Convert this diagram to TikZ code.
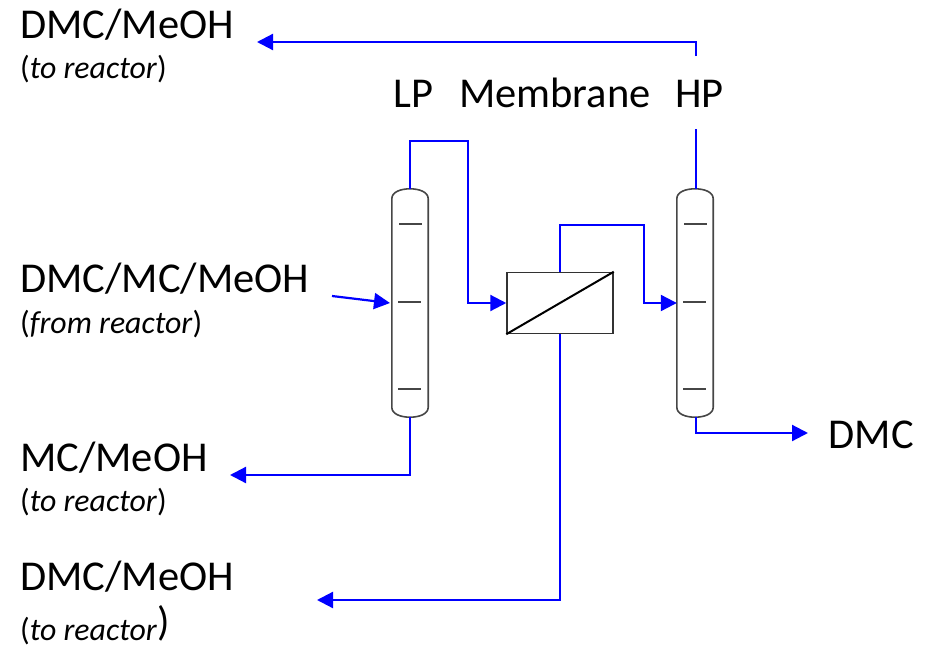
\documentclass[tikz,border=0pt]{standalone}
\usepackage{fontspec}
\setmainfont{Carlito}
\usetikzlibrary{arrows.meta}
\tikzset{
  big/.style={anchor=base west,inner sep=0pt,font=\fontsize{42.5}{44}\selectfont},
  small/.style={anchor=base west,inner sep=0pt,font=\fontsize{31.8}{34}\selectfont},
  flow/.style={draw={rgb,255:red,0;green,0;blue,255},line width=2.2pt,line join=miter},
  flowarrow/.style={flow,-{Triangle[length=16pt,width=16pt]}},
  column/.style={minimum width=36pt,minimum height=228pt,inner sep=0pt,draw=none},
  colline/.style={draw={rgb,255:red,70;green,70;blue,70},line width=1.6pt},
  tray/.style={colline,line width=1.5pt},
  membrane/.style={draw={rgb,255:red,50;green,50;blue,50},line width=1.5pt,fill=white,minimum width=106pt,minimum height=61pt,inner sep=0pt}
}
\newcommand{\columnbody}[1]{%
  \draw[colline] ([yshift=-10pt]#1.north west)
    .. controls ([yshift=-3pt]#1.north west) and ([xshift=-9pt]#1.north) .. (#1.north)
    .. controls ([xshift=9pt]#1.north) and ([yshift=-3pt]#1.north east) .. ([yshift=-10pt]#1.north east)
    -- ([yshift=10pt]#1.south east)
    .. controls ([yshift=3pt]#1.south east) and ([xshift=9pt]#1.south) .. (#1.south)
    .. controls ([xshift=-9pt]#1.south) and ([yshift=3pt]#1.south west) .. ([yshift=10pt]#1.south west)
    -- cycle;
  \draw[tray] ([shift={(-11pt,-35pt)}]#1.north) -- ([shift={(12pt,-35pt)}]#1.north);
  \draw[tray] ([shift={(-12pt,-113pt)}]#1.north) -- ([shift={(11pt,-113pt)}]#1.north);
  \draw[tray] ([shift={(-12pt,-200pt)}]#1.north) -- ([shift={(11pt,-200pt)}]#1.north);
}
\begin{document}
\begin{tikzpicture}[x=1pt,y=-1pt]
\useasboundingbox (0,0) rectangle (930,648);
% equipment
\node[column] (lp) at (410,303) {};
\node[column] (hp) at (695,303) {};
\node[membrane] (mem) at (560,303) {};
\columnbody{lp}
\columnbody{hp}
\draw[line width=2pt,black] (mem.south west) -- (mem.north east);
% text
\node[big] (t1) at (20,38) {DMC/MeOH};
\node[small] (t1b) at (20,78) {(\textit{to reactor})};
\node[big] (tlp) at (393,107) {LP};
\node[big] (tmem) at (459,107) {Membrane};
\node[big] (thp) at (675,107) {HP};
\node[big] (t2) at (20,292) {DMC/MC/MeOH};
\node[small] (t2b) at (20,333) {(\textit{from reactor})};
\node[big] (t3) at (20,471) {MC/MeOH};
\node[small] (t3b) at (20,511) {(\textit{to reactor})};
\node[big] (t4) at (20,590) {DMC/MeOH};
\node[small] (t4b) at (20,640) {(\textit{to reactor}\raisebox{5pt}{\fontsize{41}{43}\selectfont)}};
\node[big] (tdmc) at (828.5,448) {DMC};
% free ends
\coordinate (hpgapa) at (696,129);
\coordinate (hpgapb) at (696,56);
\coordinate (feed) at (332,296);
\coordinate (feedend) at (390,303);
\coordinate (outtop) at (257,42);
\coordinate (outmc) at (230,475);
\coordinate (outmem) at (317,600);
\coordinate (outdmc) at (808,433);
% connectors
\draw[flowarrow] (lp.north) -- (410,141) -- (468,141) -- (468,303) -- (mem.west);
\draw[flowarrow] (feed) -- (feedend);
\draw[flowarrow] (lp.south) -- (410,475) -- (outmc);
\draw[flowarrow] (mem.north) -- (560,225) -- (644,225) -- (644,303) -- (hp.west);
\draw[flowarrow] (mem.south) -- (560,600) -- (outmem);
\draw[flow] (hp.north) ++(1pt,0) -- (hpgapa);
\draw[flowarrow] (hpgapb) -- (696,42) -- (outtop);
\draw[flowarrow] ([xshift=1pt]hp.south) -- (696,433) -- (outdmc);
\end{tikzpicture}
\end{document}
